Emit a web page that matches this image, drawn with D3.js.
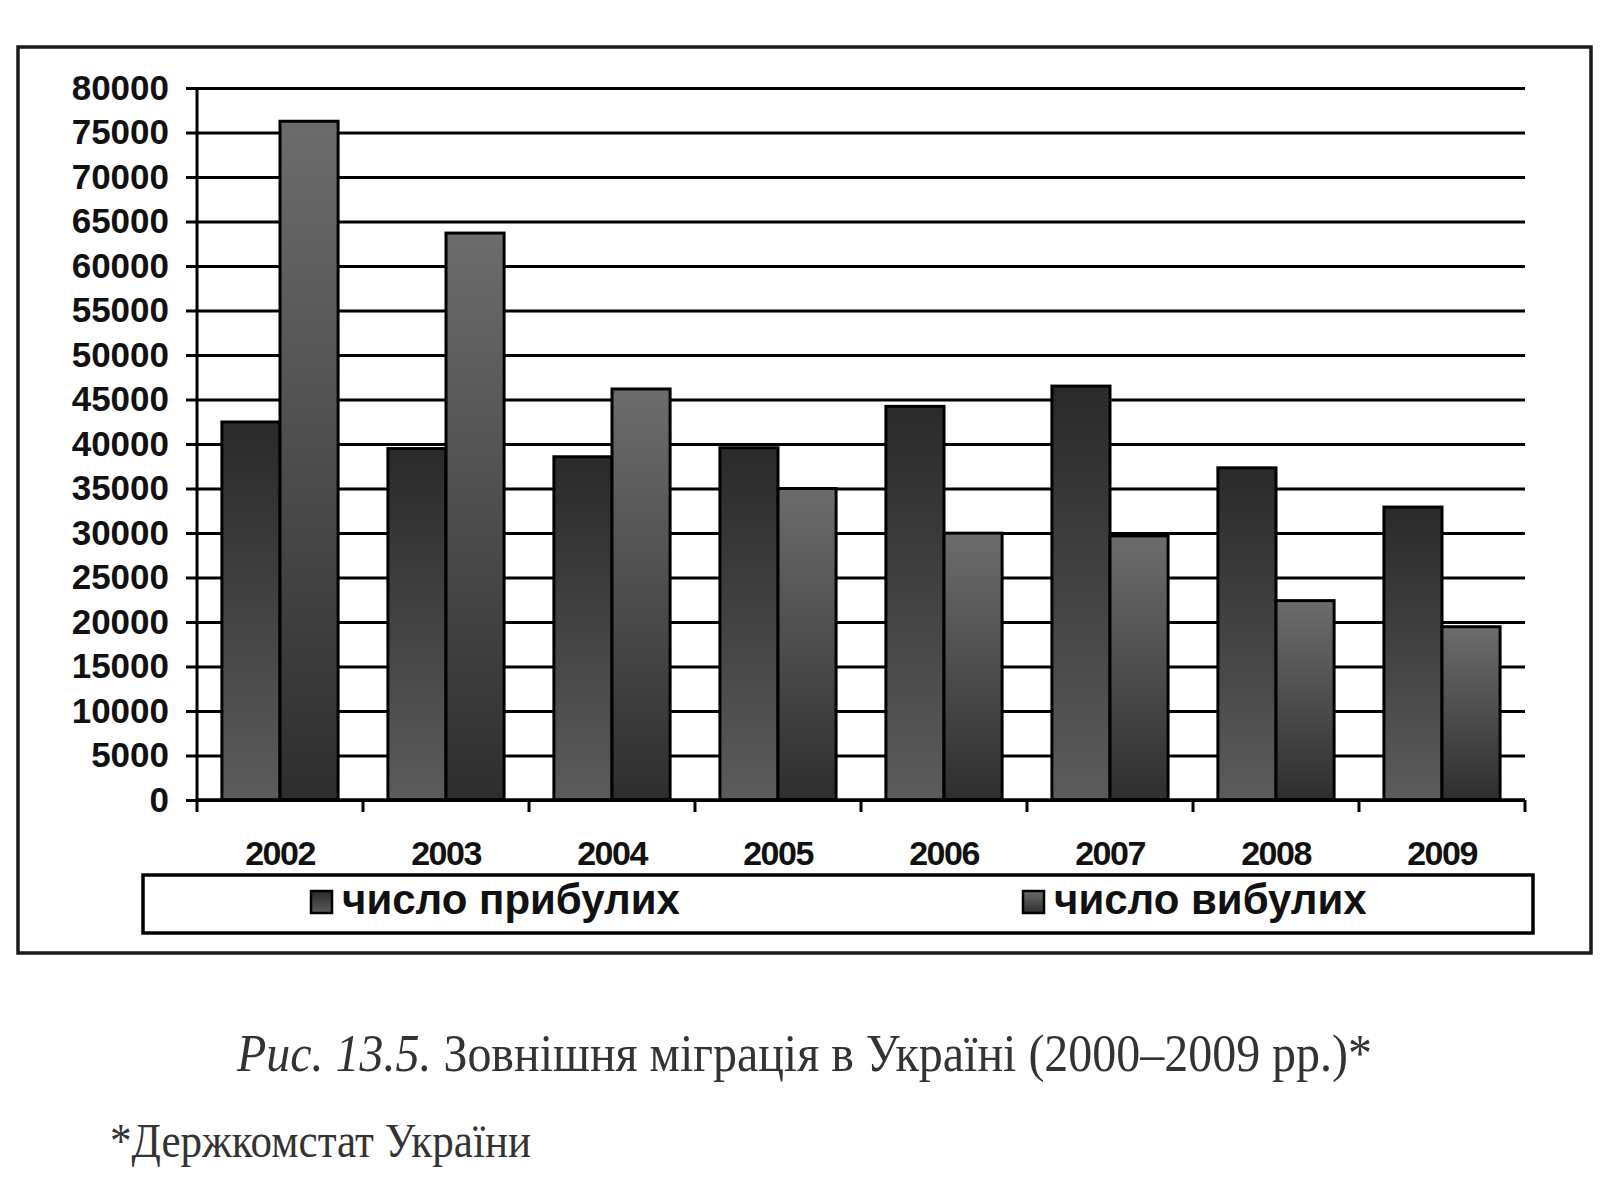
<!DOCTYPE html>
<html>
<head>
<meta charset="utf-8">
<script src="https://cdn.jsdelivr.net/npm/d3@7"></script>
<style>
  html, body { margin: 0; padding: 0; background: #fff; }
  svg { display: block; }
</style>
</head>
<body>
<div id="chart"></div>
<script>
// Зовнішня міграція в Україні, Держкомстат
var years = ["2002", "2003", "2004", "2005", "2006", "2007", "2008", "2009"];
var arrivals = [42473, 39489, 38567, 39580, 44227, 46507, 37323, 32917];   // число прибулих
var departures = [76264, 63699, 46182, 34997, 29982, 29669, 22402, 19470]; // число вибулих
var seriesNames = ["число прибулих", "число вибулих"];
var yTicks = [0, 5000, 10000, 15000, 20000, 25000, 30000, 35000, 40000,
              45000, 50000, 55000, 60000, 65000, 70000, 75000, 80000];
var captionItalic = "Рис. 13.5.";
var captionText = " Зовнішня міграція в Україні (2000–2009 рр.)*";
var sourceText = "*Держкомстат України";

var W = 1600, H = 1200;
var plot = {left: 197, right: 1525, top: 88, bottom: 800};

var svg = d3.select("#chart").append("svg")
    .attr("width", W)
    .attr("height", H);

svg.append("rect").attr("width", W).attr("height", H).attr("fill", "#fff");

/* gradients for the two series */
var defs = svg.append("defs");
function gradient(id, top, bottom) {
    var g = defs.append("linearGradient").attr("id", id)
        .attr("x1", 0).attr("y1", 0).attr("x2", 0).attr("y2", 1);
    g.append("stop").attr("offset", "0%").attr("stop-color", top);
    g.append("stop").attr("offset", "100%").attr("stop-color", bottom);
}
gradient("g-arr", "#2a2a2a", "#5c5c5c");
gradient("g-dep", "#6c6c6c", "#2e2e2e");
var fills = ["url(#g-arr)", "url(#g-dep)"];

/* outer frame */
svg.append("rect")
    .attr("x", 18).attr("y", 47)
    .attr("width", 1573).attr("height", 906)
    .attr("fill", "none")
    .attr("stroke", "#1a1a1a")
    .attr("stroke-width", 3.5);

var x = d3.scaleBand().domain(years)
    .range([plot.left, plot.right])
    .paddingInner(0.3).paddingOuter(0.15);
var x1 = d3.scaleBand().domain([0, 1]).range([0, x.bandwidth()]);
var y = d3.scaleLinear().domain([0, 80000]).range([plot.bottom, plot.top]);

/* gridlines with tick stubs on the left */
var yAxis = d3.axisLeft(y).tickValues(yTicks).tickSize(11).tickPadding(17).tickFormat(d3.format("d"));
var gy = svg.append("g").attr("transform", "translate(" + plot.left + ",0)").call(yAxis);
gy.select(".domain").remove();
gy.selectAll(".tick line").attr("stroke", "#000").attr("stroke-width", 3);
gy.selectAll(".tick").append("line")
    .attr("x1", 0).attr("x2", plot.right - plot.left)
    .attr("stroke", "#000").attr("stroke-width", 3.2);
gy.selectAll(".tick text")
    .attr("fill", "#111")
    .style("font-family", "'Liberation Sans', Arial, sans-serif")
    .style("font-weight", "bold")
    .style("font-size", "35px");

/* bars */
var groups = svg.append("g").selectAll("g")
    .data(years)
    .enter().append("g")
    .attr("transform", function(d) { return "translate(" + x(d) + ",0)"; });

groups.selectAll("rect")
    .data(function(d, i) { return [arrivals[i], departures[i]]; })
    .enter().append("rect")
    .attr("x", function(d, j) { return x1(j); })
    .attr("y", function(d) { return y(d); })
    .attr("width", x1.bandwidth())
    .attr("height", function(d) { return y(0) - y(d); })
    .attr("fill", function(d, j) { return fills[j]; })
    .attr("stroke", "#000")
    .attr("stroke-width", 3);

/* y axis line */
svg.append("line")
    .attr("x1", plot.left).attr("x2", plot.left)
    .attr("y1", y(80000)).attr("y2", y(0))
    .attr("stroke", "#000").attr("stroke-width", 3);

/* x axis with boundary ticks */
svg.append("line")
    .attr("x1", plot.left).attr("x2", plot.right)
    .attr("y1", y(0)).attr("y2", y(0))
    .attr("stroke", "#000").attr("stroke-width", 3.5);

var bounds = years.map(function(d) { return x(d) - x.step() * 0.15; });
bounds.push(plot.right);
svg.append("g").selectAll("line")
    .data(bounds)
    .enter().append("line")
    .attr("x1", function(d) { return d; }).attr("x2", function(d) { return d; })
    .attr("y1", y(0)).attr("y2", y(0) + 12)
    .attr("stroke", "#000").attr("stroke-width", 3);

svg.append("g").selectAll("text")
    .data(years)
    .enter().append("text")
    .attr("x", function(d) { return x(d) + x.bandwidth() / 2; })
    .attr("y", 865)
    .attr("text-anchor", "middle")
    .attr("fill", "#111")
    .style("font-family", "'Liberation Sans', Arial, sans-serif")
    .style("font-weight", "bold")
    .style("font-size", "34px")
    .style("letter-spacing", "-1.5px")
    .text(function(d) { return d; });

/* legend */
svg.append("rect")
    .attr("x", 143).attr("y", 875)
    .attr("width", 1390).attr("height", 58)
    .attr("fill", "#fff")
    .attr("stroke", "#000")
    .attr("stroke-width", 3.5);

var legendX = [311, 1023];
var leg = svg.append("g").selectAll("g")
    .data(seriesNames)
    .enter().append("g")
    .attr("transform", function(d, i) { return "translate(" + legendX[i] + ",0)"; });
leg.append("rect")
    .attr("x", 0).attr("y", 891)
    .attr("width", 21).attr("height", 22)
    .attr("fill", function(d, i) { return fills[i]; })
    .attr("stroke", "#000").attr("stroke-width", 2.5);
leg.append("text")
    .attr("x", 31).attr("y", 914)
    .attr("fill", "#111")
    .style("font-family", "'Liberation Sans', Arial, sans-serif")
    .style("font-weight", "bold")
    .style("font-size", "42px")
    .text(function(d) { return d; });

/* caption and source */
var cap = svg.append("text")
    .attr("x", 237).attr("y", 1071)
    .attr("fill", "#333")
    .attr("textLength", 1135)
    .attr("lengthAdjust", "spacingAndGlyphs")
    .style("font-family", "'Liberation Serif', 'DejaVu Serif', serif")
    .style("font-size", "52px");
cap.append("tspan").style("font-style", "italic").text(captionItalic);
cap.append("tspan").text(captionText);

svg.append("text")
    .attr("x", 110).attr("y", 1157)
    .attr("fill", "#333")
    .attr("textLength", 421)
    .attr("lengthAdjust", "spacingAndGlyphs")
    .style("font-family", "'Liberation Serif', 'DejaVu Serif', serif")
    .style("font-size", "48px")
    .text(sourceText);
</script>
</body>
</html>
